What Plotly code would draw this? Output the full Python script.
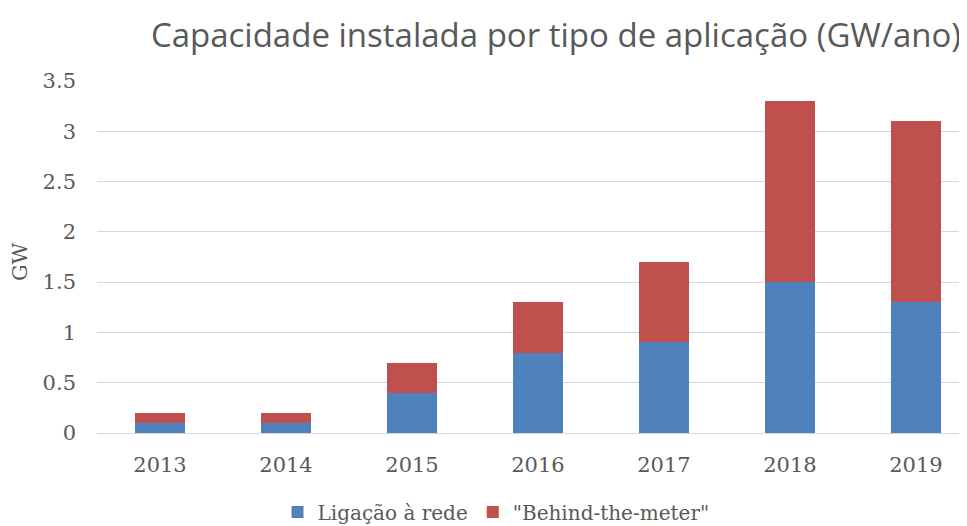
import plotly.graph_objects as go

years = ["2013", "2014", "2015", "2016", "2017", "2018", "2019"]
rede = [0.1, 0.1, 0.4, 0.8, 0.9, 1.5, 1.3]
btm = [0.1, 0.1, 0.3, 0.5, 0.8, 1.8, 1.8]

serif = "DejaVu Serif, Liberation Serif, serif"
txt = "#595959"

fig = go.Figure()
fig.add_trace(go.Bar(x=years, y=rede, name="Ligação à rede", marker_color="#4F81BD",
                     marker_line_width=0))
fig.add_trace(go.Bar(x=years, y=btm, name='"Behind-the-meter"', marker_color="#C0504D",
                     marker_line_width=0))

fig.update_layout(
    barmode="stack",
    bargap=0.60,
    width=959, height=518,
    margin=dict(l=89, r=0, t=73, b=93, autoexpand=False),
    paper_bgcolor="white", plot_bgcolor="white",
    title=dict(text="Capacidade instalada por tipo de aplicação (GW/ano)",
               font=dict(family="Open Sans, sans-serif", size=33, color=txt),
               x=548 / 959, xanchor="center", y=1 - 27 / 518, yanchor="middle"),
    font=dict(family=serif, color=txt, size=20),
    xaxis=dict(showline=True, linecolor="#D9D9D9", linewidth=1, ticks="",
               range=[-0.5, 6.405], ticklabelstandoff=13,
               tickfont=dict(size=21, family=serif, color=txt)),
    yaxis=dict(range=[0, 3.5], dtick=0.5, showgrid=True, gridcolor="#D9D9D9",
               gridwidth=1, zeroline=False, ticks="", ticklabelstandoff=20,
               tickfont=dict(size=21, family=serif, color=txt)),
    legend=dict(orientation="h", xref="container", yref="container",
                x=488 / 959, xanchor="center", y=1 - 504 / 518, yanchor="middle",
                font=dict(size=20, family=serif, color=txt), traceorder="normal"),
    annotations=[dict(text="GW", xref="paper", yref="paper", x=-77 / 870, y=0.486,
                      xanchor="center", yanchor="middle", textangle=-90, showarrow=False,
                      font=dict(size=21, family=serif, color=txt))],
)

fig.write_html("out.html")
